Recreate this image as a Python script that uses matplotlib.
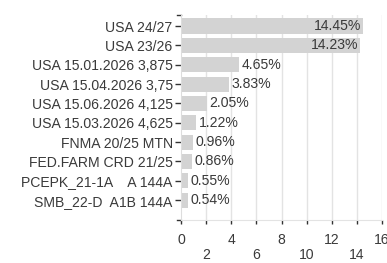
import numpy as np
import matplotlib.pyplot as plt

# data
names = ["USA 24/27", "USA 23/26", "USA 15.01.2026 3,875", "USA 15.04.2026 3,75",
         "USA 15.06.2026 4,125", "USA 15.03.2026 4,625", "FNMA 20/25 MTN",
         "FED.FARM CRD 21/25", "PCEPK_21-1A    A 144A", "SMB_22-D  A1B 144A"]
weights = [14.45, 14.23, 4.65, 3.83, 2.05, 1.22, 0.96, 0.86, 0.55, 0.54]
xticks = [0, 2, 4, 6, 8, 10, 12, 14, 16]

plt.rcParams['font.family'] = ['Liberation Sans', 'DejaVu Sans']
txt = '#3a3a3a'
fs = 10.1
W, H = 387, 263
fig = plt.figure(figsize=(W / 100, H / 100), dpi=100)
ax = fig.add_axes([181 / W, 1 - 220 / H, (382 - 181) / W, (220 - 15) / H])

y = np.arange(len(names))
ax.barh(y, weights, height=0.78, color='#d3d3d3', zorder=2)
ax.set_xlim(0, 16)
ax.set_ylim(len(names) - 1 + 1.03, -0.57)

# vertical grid lines
for t in xticks[1:]:
    ax.axvline(t, color='#e3e3e3', lw=1, zorder=1)

for yi, v in zip(y, weights):
    lab = f"{v:.2f}%"
    if v > 10:
        ax.text(v - 0.1, yi, lab, ha='right', va='center', fontsize=fs, color=txt, zorder=3)
    else:
        ax.text(v + 0.2, yi, lab, ha='left', va='center', fontsize=fs, color=txt, zorder=3)

ax.set_yticks(y)
ax.set_yticklabels(names, fontsize=fs, color=txt)
ax.set_xticks(xticks)
ax.set_xticklabels([str(t) if i % 2 == 0 else '\n' + str(t) for i, t in enumerate(xticks)],
                   fontsize=fs, color=txt, linespacing=1.15)
ax.tick_params(axis='y', length=4, width=1, color='#333333', pad=2)
ax.tick_params(axis='x', length=3, width=1, color='#333333', pad=6)

for s in ['top', 'right']:
    ax.spines[s].set_visible(False)
ax.spines['left'].set_color('#dddddd')
ax.spines['bottom'].set_color('#e3e3e3')

# outer ticks at the ends of the y axis
ax.plot([-0.3, 0], [-0.57, -0.57], color='#333333', lw=1, clip_on=False)
ax.plot([-0.3, 0], [10.03, 10.03], color='#333333', lw=1, clip_on=False)

fig.savefig('out.png', dpi=100)
